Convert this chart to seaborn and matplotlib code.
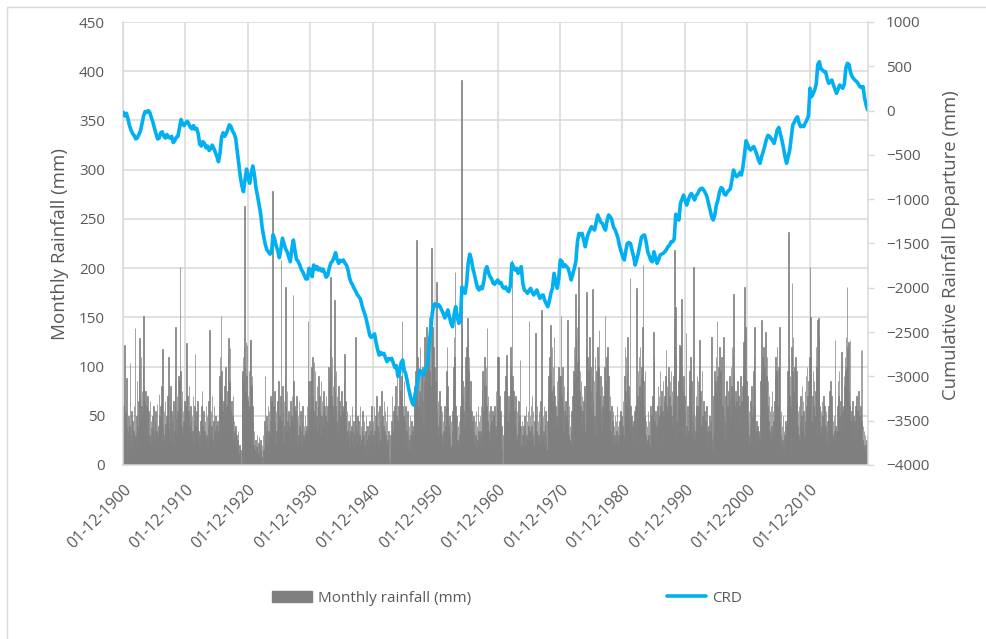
import numpy as np
import pandas as pd
import matplotlib
matplotlib.use("Agg")
import matplotlib.pyplot as plt
from matplotlib.patches import Patch, Rectangle
from matplotlib.lines import Line2D
import seaborn as sns

# ---------------- data (monthly, starting Dec 1900) ----------------
rain_1900s = [60, 45, 122, 30, 55, 20, 88, 40, 15, 35, 50, 25,
              40, 104, 18, 30, 55, 22, 45, 10, 35, 60, 28, 139,
              30, 50, 85, 40, 20, 65, 95, 129, 70, 45, 110, 60,
              75, 55, 100, 151, 80, 65, 30, 75, 45, 60, 25, 70,
              40, 55, 30, 65, 20, 45, 38, 15, 50, 28, 60, 35,
              25, 45, 55, 20, 35, 62, 30, 18, 40, 72, 50, 35,
              60, 45, 80, 118, 40, 25, 55, 30, 65, 42, 20, 50,
              35, 70, 45, 110, 38, 25, 60, 80, 30, 55, 45, 22,
              50, 65, 35, 85, 140, 48, 30, 70, 55, 40, 90, 60,
              85, 201, 95, 60, 40, 75, 30, 55, 45, 25, 65, 50]
rain_1910s = [60, 45, 124, 70, 35, 55, 80, 40, 25, 60, 45, 30,
              50, 35, 70, 20, 45, 60, 113, 40, 30, 55, 25, 65,
              20, 35, 15, 30, 45, 25, 60, 75, 40, 30, 55, 20,
              35, 45, 25, 60, 30, 50, 20, 40, 65, 35, 137, 45,
              30, 55, 40, 70, 25, 45, 60, 35, 20, 50, 30, 40,
              25, 45, 15, 35, 60, 90, 110, 75, 151, 95, 70, 55,
              40, 65, 35, 80, 50, 100, 60, 45, 75, 110, 129, 60,
              85, 119, 55, 40, 65, 30, 50, 70, 25, 45, 35, 20,
              40, 15, 30, 10, 25, 35, 12, 20, 8, 15, 2, 0,
              90, 95, 110, 85, 120, 263, 100, 75, 125, 90, 122, 65]
rain_1920s = [70, 55, 95, 60, 127, 127, 80, 90, 60, 45, 20, 35,
              15, 10, 25, 8, 18, 30, 12, 5, 22, 28, 10, 18,
              25, 15, 8, 20, 0, 30, 15, 45, 90, 25, 35, 50,
              40, 20, 60, 35, 55, 30, 45, 70, 25, 65, 50, 278,
              40, 60, 30, 75, 45, 20, 55, 35, 65, 40, 85, 30,
              50, 25, 70, 208, 45, 35, 80, 55, 20, 65, 40, 90,
              181, 60, 35, 75, 45, 30, 55, 20, 40, 65, 30, 50,
              70, 45, 173, 85, 40, 60, 25, 55, 35, 70, 45, 20,
              50, 30, 65, 40, 25, 55, 35, 20, 45, 60, 30, 40,
              25, 50, 35, 15, 40, 60, 30, 146, 85, 70, 45, 55]
rain_1930s = [85, 60, 100, 45, 110, 70, 55, 105, 40, 95, 65, 50,
              80, 35, 60, 90, 45, 70, 55, 30, 85, 50, 65, 40,
              55, 75, 40, 60, 30, 50, 70, 45, 25, 60, 40, 100,
              85, 120, 191, 95, 70, 110, 60, 80, 50, 90, 168, 75,
              60, 95, 45, 70, 35, 55, 80, 40, 65, 30, 50, 75,
              45, 60, 30, 55, 85, 113, 40, 65, 50, 25, 55, 35,
              20, 45, 30, 15, 50, 35, 25, 40, 60, 20, 35, 45,
              30, 55, 130, 40, 20, 35, 50, 25, 45, 15, 30, 60,
              20, 40, 25, 35, 55, 15, 30, 45, 20, 10, 35, 50,
              25, 40, 15, 30, 20, 45, 10, 35, 25, 60, 40, 30]
rain_1940s = [45, 20, 60, 35, 15, 50, 30, 70, 25, 40, 55, 20,
              35, 60, 25, 45, 75, 30, 50, 20, 40, 65, 35, 55,
              30, 45, 20, 60, 25, 10, 35, 5, 0, 2, 30, 20,
              45, 70, 35, 55, 25, 60, 40, 80, 30, 50, 95, 45,
              20, 60, 35, 100, 55, 75, 40, 90, 146, 60, 30, 50,
              85, 45, 25, 60, 35, 20, 55, 30, 15, 40, 25, 50,
              30, 20, 45, 15, 35, 25, 40, 60, 80, 55, 95, 70,
              229, 85, 110, 60, 95, 75, 120, 50, 70, 90, 45, 100,
              65, 40, 85, 130, 55, 95, 70, 140, 60, 110, 85, 120,
              150, 95, 130, 80, 220, 105, 140, 90, 120, 75, 100, 60]
rain_1950s = [85, 70, 186, 55, 40, 65, 30, 50, 75, 35, 60, 45,
              30, 55, 20, 45, 35, 60, 25, 40, 70, 95, 120, 80,
              60, 40, 25, 50, 30, 15, 45, 20, 35, 55, 80, 100,
              130, 110, 196, 60, 35, 50, 25, 40, 20, 45, 30, 55,
              60, 100, 391, 140, 85, 70, 55, 80, 40, 65, 110, 90,
              120, 75, 149, 130, 95, 110, 60, 85, 40, 55, 30, 45,
              25, 50, 35, 20, 45, 30, 55, 15, 40, 25, 60, 35,
              45, 20, 50, 35, 60, 30, 75, 95, 55, 85, 110, 65,
              80, 100, 60, 139, 45, 70, 35, 55, 25, 40, 60, 30,
              45, 20, 55, 35, 50, 25, 60, 40, 75, 30, 65, 110]
rain_1960s = [60, 110, 45, 70, 35, 55, 25, 40, 15, 0, 0, 30,
              50, 75, 40, 90, 60, 112, 85, 45, 70, 30, 55, 95,
              120, 100, 80, 208, 90, 60, 75, 45, 55, 35, 70, 40,
              25, 55, 30, 45, 65, 35, 50, 107, 40, 20, 45, 30,
              15, 40, 25, 50, 35, 20, 60, 30, 45, 25, 55, 40,
              146, 35, 50, 25, 60, 40, 70, 30, 55, 20, 45, 65,
              134, 50, 35, 60, 25, 45, 30, 55, 20, 40, 65, 30,
              157, 45, 25, 50, 35, 60, 20, 40, 55, 30, 15, 45,
              70, 90, 60, 110, 85, 142, 95, 75, 120, 65, 100, 80,
              130, 70, 45, 60, 35, 50, 85, 40, 65, 100, 55, 90]
rain_1970s = [90, 151, 70, 45, 100, 60, 35, 80, 55, 40, 65, 30,
              50, 75, 147, 45, 30, 60, 25, 40, 20, 35, 55, 15,
              70, 95, 120, 85, 110, 174, 130, 90, 140, 105, 160, 201,
              110, 75, 95, 60, 85, 40, 70, 55, 30, 65, 45, 80,
              35, 120, 176, 90, 110, 70, 95, 60, 130, 85, 100, 75,
              55, 90, 179, 65, 40, 85, 50, 110, 30, 75, 95, 60,
              120, 100, 137, 70, 45, 90, 55, 35, 80, 60, 40, 70,
              50, 100, 151, 85, 60, 110, 75, 120, 65, 90, 40, 55,
              70, 35, 60, 25, 45, 55, 20, 40, 30, 50, 25, 45,
              35, 60, 20, 40, 30, 15, 45, 25, 55, 30, 50, 35]
rain_1980s = [40, 65, 30, 90, 120, 75, 110, 60, 95, 130, 55, 80,
              70, 45, 190, 60, 35, 50, 25, 40, 20, 45, 30, 55,
              25, 60, 35, 180, 70, 95, 55, 110, 80, 120, 65, 90,
              100, 75, 140, 203, 85, 60, 50, 95, 30, 45, 20, 40,
              25, 55, 30, 45, 20, 60, 35, 50, 25, 70, 40, 135,
              110, 45, 30, 55, 20, 40, 35, 60, 80, 45, 70, 50,
              95, 60, 40, 75, 55, 85, 50, 65, 70, 45, 90, 117,
              60, 80, 55, 75, 100, 45, 70, 85, 60, 95, 50, 75,
              40, 65, 90, 140, 218, 160, 110, 45, 30, 70, 55, 85,
              95, 122, 110, 120, 80, 169, 100, 75, 65, 90, 45, 70]
rain_1990s = [55, 30, 134, 40, 25, 60, 35, 80, 95, 70, 110, 60,
              85, 45, 30, 55, 201, 40, 25, 50, 35, 70, 60, 90,
              45, 85, 60, 100, 127, 55, 75, 40, 95, 50, 30, 65,
              40, 55, 25, 45, 30, 60, 20, 35, 15, 40, 25, 50,
              20, 35, 45, 130, 25, 15, 30, 70, 95, 60, 85, 110,
              75, 146, 90, 65, 100, 80, 120, 55, 95, 70, 110, 45,
              60, 35, 130, 50, 25, 45, 70, 40, 85, 60, 35, 75,
              55, 90, 65, 45, 100, 80, 120, 70, 110, 174, 95, 60,
              40, 75, 50, 65, 35, 85, 55, 70, 45, 60, 90, 40,
              65, 50, 80, 100, 125, 95, 181, 110, 140, 70, 85, 60]
rain_2000s = [70, 45, 30, 55, 20, 40, 65, 35, 80, 50, 60, 95,
              110, 140, 60, 35, 25, 45, 20, 40, 15, 35, 30, 25,
              50, 85, 95, 147, 70, 110, 80, 120, 65, 100, 135, 75,
              90, 110, 60, 85, 45, 70, 35, 55, 25, 60, 40, 75,
              30, 55, 45, 20, 65, 90, 110, 70, 95, 120, 60, 100,
              85, 140, 45, 30, 55, 20, 40, 25, 50, 15, 35, 30,
              20, 45, 25, 40, 60, 95, 80, 237, 110, 70, 90, 60,
              120, 185, 95, 130, 75, 60, 100, 85, 110, 70, 95, 65,
              40, 55, 30, 60, 25, 45, 70, 35, 50, 80, 40, 65,
              55, 30, 75, 45, 90, 60, 100, 70, 45, 85, 60, 110]
rain_2010s = [201, 150, 110, 45, 30, 70, 95, 60, 85, 50, 40, 75,
              120, 100, 147, 90, 149, 130, 60, 45, 30, 55, 40, 65,
              50, 35, 70, 45, 60, 25, 40, 55, 20, 35, 45, 30,
              60, 75, 50, 85, 40, 70, 55, 30, 45, 25, 50, 35,
              127, 40, 20, 35, 30, 60, 85, 70, 95, 50, 40, 65,
              30, 115, 55, 40, 60, 90, 80, 110, 95, 130, 100, 181,
              120, 90, 125, 75, 60, 127, 45, 30, 55, 40, 65, 35,
              50, 25, 45, 60, 30, 70, 40, 55, 35, 75, 45, 50,
              30, 60, 117, 45, 117, 25, 40, 20, 35, 15, 30, 20,
              10, 25, 15, 29]

# Cumulative rainfall departure, read every third month
crd_1900s = [-20, -60, -30, -90, -170, -220, -260, -280, -320, -310,
             -270, -230, -150, -60, -10, -20, 0, -20, -80, -130,
             -200, -260, -320, -310, -250, -240, -290, -310, -270, -300,
             -310, -290, -360, -340, -300, -290, -200, -100, -150, -170]
crd_1910s = [-140, -120, -150, -190, -205, -170, -210, -200, -260, -380,
             -400, -350, -370, -420, -400, -450, -430, -390, -425, -470,
             -520, -577, -480, -300, -250, -290, -260, -210, -160, -180,
             -230, -260, -310, -450, -600, -746, -850, -915, -780, -660]
crd_1920s = [-760, -820, -700, -625, -720, -870, -960, -1060, -1160, -1320,
             -1423, -1510, -1570, -1593, -1620, -1600, -1400, -1450, -1530, -1580,
             -1660, -1560, -1440, -1500, -1560, -1593, -1650, -1706, -1560, -1461,
             -1580, -1680, -1700, -1740, -1790, -1820, -1860, -1900, -1900, -1780]
crd_1930s = [-1800, -1874, -1743, -1790, -1760, -1799, -1780, -1810, -1790, -1830,
             -1880, -1860, -1780, -1720, -1700, -1660, -1604, -1680, -1724, -1690,
             -1700, -1686, -1720, -1743, -1800, -1890, -1940, -1970, -2010, -2040,
             -2080, -2100, -2130, -2200, -2260, -2307, -2380, -2460, -2540, -2560]
crd_1940s = [-2540, -2520, -2620, -2700, -2760, -2730, -2750, -2740, -2790, -2834,
             -2800, -2810, -2796, -2850, -2900, -2880, -3000, -2960, -2850, -2815,
             -2930, -2970, -3060, -3150, -3230, -3290, -3323, -3200, -3116, -3010,
             -2930, -2950, -2990, -2950, -2900, -2860, -2650, -2470, -2280, -2190]
crd_1950s = [-2180, -2213, -2190, -2213, -2250, -2288, -2340, -2300, -2250, -2330,
             -2400, -2439, -2300, -2213, -2330, -2400, -2380, -1990, -2030, -2062,
             -1950, -1720, -1620, -1680, -1780, -1850, -1930, -2000, -2025, -1990,
             -2010, -1930, -1800, -1762, -1830, -1874, -1900, -1950, -1960, -1930]
crd_1960s = [-1912, -1950, -1940, -1990, -2006, -1990, -2025, -2043, -1980, -1724,
             -1760, -1799, -1780, -1837, -1790, -1762, -1950, -2025, -2040, -2062,
             -2030, -2006, -2050, -2081, -2050, -2025, -2080, -2119, -2090, -2081,
             -2140, -2180, -2213, -2150, -2060, -2006, -1837, -1920, -2006, -1900]
crd_1970s = [-1686, -1700, -1762, -1740, -1760, -1780, -1840, -1912, -1850, -1780,
             -1700, -1480, -1385, -1400, -1385, -1460, -1536, -1450, -1385, -1350,
             -1310, -1330, -1348, -1260, -1178, -1220, -1260, -1273, -1320, -1348,
             -1240, -1178, -1198, -1230, -1310, -1340, -1385, -1440, -1530, -1590]
crd_1980s = [-1650, -1686, -1580, -1498, -1490, -1500, -1580, -1649, -1743, -1680,
             -1611, -1520, -1430, -1410, -1404, -1480, -1590, -1640, -1690, -1706,
             -1593, -1660, -1724, -1680, -1630, -1620, -1610, -1593, -1570, -1536,
             -1520, -1480, -1480, -1450, -1170, -1200, -1235, -1047, -1000, -954]
crd_1990s = [-1010, -1066, -1010, -960, -935, -970, -1009, -960, -940, -900,
             -880, -877, -900, -930, -972, -1050, -1122, -1200, -1235, -1180,
             -1066, -1010, -920, -870, -880, -940, -953, -920, -900, -880,
             -780, -671, -720, -746, -730, -700, -727, -640, -500, -340]
crd_2000s = [-380, -430, -445, -420, -407, -450, -500, -560, -595, -520,
             -464, -400, -330, -280, -290, -313, -340, -370, -300, -220,
             -190, -260, -332, -420, -520, -595, -520, -445, -300, -160,
             -130, -90, -70, -140, -182, -170, -180, -140, -107, -60]
crd_2010s = [252, 157, 190, 233, 300, 520, 552, 470, 458, 440,
             439, 360, 308, 330, 345, 290, 240, 195, 240, 289,
             270, 252, 300, 480, 534, 520, 430, 383, 360, 340,
             326, 300, 270, 260, 270, 140, 60, 6]

tick_labels = ["01-12-1900", "01-12-1910", "01-12-1920", "01-12-1930",
               "01-12-1940", "01-12-1950", "01-12-1960", "01-12-1970",
               "01-12-1980", "01-12-1990", "01-12-2000", "01-12-2010"]

rain_parts = [rain_1900s, rain_1910s, rain_1920s, rain_1930s, rain_1940s, rain_1950s,
              rain_1960s, rain_1970s, rain_1980s, rain_1990s, rain_2000s, rain_2010s]
crd_parts = [crd_1900s, crd_1910s, crd_1920s, crd_1930s, crd_1940s, crd_1950s,
             crd_1960s, crd_1970s, crd_1980s, crd_1990s, crd_2000s, crd_2010s]
for k, p in enumerate(rain_parts[:-1]):
    assert len(p) == 120, ("rain", k, len(p))
for k, p in enumerate(crd_parts[:-1]):
    assert len(p) == 40, ("crd", k, len(p))

rain = np.concatenate([np.array(p, dtype=float) for p in rain_parts])
crd = np.concatenate([np.array(p, dtype=float) for p in crd_parts])
N = len(rain)
month_idx = np.arange(N)
crd_idx = np.arange(len(crd)) * 3

df_rain = pd.DataFrame({"month": month_idx, "rain": rain})
df_crd = pd.DataFrame({"month": crd_idx, "crd": crd})

# ---------------- styling ----------------
sns.set_style("white")
plt.rcParams["font.family"] = ["Open Sans", "DejaVu Sans"]
TXT = "#595959"
GRID = "#d9d9d9"
BAR = "#7f7f7f"
LINE = "#00b0f0"

fig = plt.figure(figsize=(9.87, 6.39), dpi=100)
ax = fig.add_axes([123 / 987, 1 - 465 / 639, 745 / 987, 443 / 639])

sns.barplot(data=df_rain, x="month", y="rain", native_scale=True, width=1.0,
            color=BAR, saturation=1, errorbar=None, linewidth=0.5,
            edgecolor=BAR, ax=ax)

ax.set_xlim(-0.5, N - 0.5)
ax.set_ylim(0, 450)
ax.set_yticks(np.arange(0, 451, 50))
ax.set_xticks(np.arange(0, N, 120)[:len(tick_labels)])
ax.set_xticklabels(tick_labels, rotation=45, ha="right", va="top",
                   rotation_mode="anchor")
ax.set_xticks(np.arange(-0.5, N, 120), minor=True)
ax.grid(False)
ax.grid(True, which="minor", axis="x", color=GRID, lw=1.1)
ax.grid(True, which="major", axis="y", color=GRID, lw=1.1)
ax.set_axisbelow(True)
ax.tick_params(axis="x", which="both", length=0, pad=12, labelsize=11.5, labelcolor=TXT)
ax.tick_params(axis="y", length=0, pad=13, labelsize=11, labelcolor=TXT)
ax.set_xlabel("")
ax.set_ylabel("")
for s in ["top", "right"]:
    ax.spines[s].set_visible(False)
for s in ["left", "bottom"]:
    ax.spines[s].set_color(GRID)
    ax.spines[s].set_linewidth(1.1)

ax2 = ax.twinx()
sns.lineplot(data=df_crd, x="month", y="crd", color=LINE, linewidth=2.6,
             ax=ax2, estimator=None)
ax2.set_ylim(-4000, 1000)
ax2.set_yticks(np.arange(-4000, 1001, 500))
ax2.set_xlim(-0.5, N - 0.5)
ax2.set_ylabel("")
ax2.set_xlabel("")
ax2.tick_params(axis="y", length=4, width=1, color=GRID, pad=9,
                labelsize=11, labelcolor=TXT, direction="out")
for s in ["top", "left", "bottom"]:
    ax2.spines[s].set_visible(False)
ax2.spines["right"].set_color(GRID)
ax2.spines["right"].set_linewidth(1.1)

fig.text(60 / 987, 1 - 244 / 639, "Monthly Rainfall (mm)", rotation=90,
         ha="center", va="center", fontsize=13.5, color=TXT)
fig.text(951.5 / 987, 1 - 245.5 / 639, "Cumulative Rainfall Departure (mm)",
         rotation=90, ha="center", va="center", fontsize=13.3, color=TXT)

handles = [Patch(facecolor=BAR, edgecolor=BAR),
           Line2D([0], [0], color=LINE, lw=2.6)]
fig.legend(handles, ["Monthly rainfall (mm)", "CRD"], loc="center left",
           bbox_to_anchor=(272 / 987, 1 - 598 / 639), ncol=2, frameon=False,
           borderpad=0, borderaxespad=0, handlelength=2.6, handletextpad=0.4,
           columnspacing=12.8, fontsize=11, labelcolor=TXT)

fig.patches.append(Rectangle((7 / 987, -0.05), 1.0, 1.05 - 7 / 639,
                             transform=fig.transFigure, fill=False,
                             edgecolor=GRID, lw=1.0))

fig.savefig("out.png", dpi=100)
